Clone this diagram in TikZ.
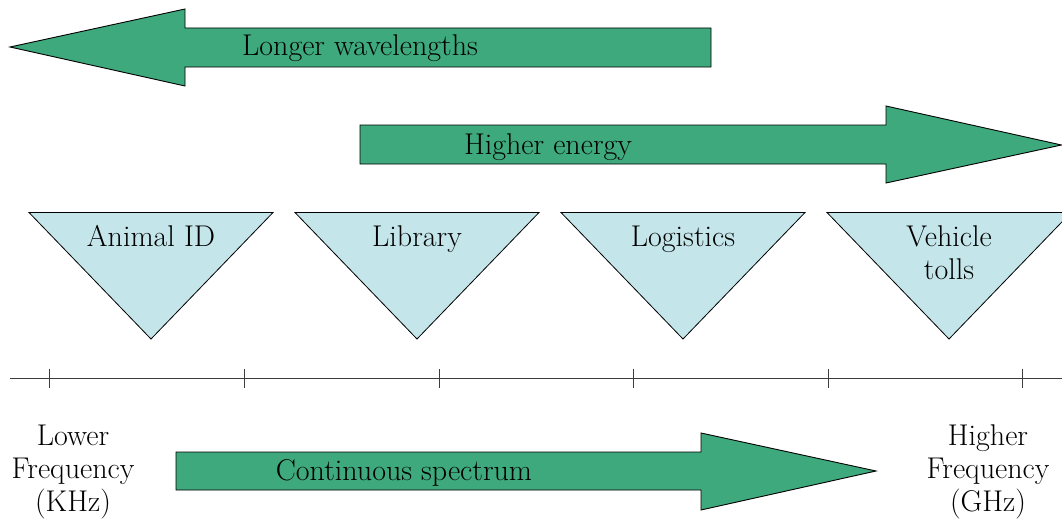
\documentclass[tikz,border=0pt]{standalone}
\usepackage{fontspec}
\definecolor{arrowgreen}{RGB}{62,169,124}
\definecolor{trifill}{RGB}{196,230,234}
\definecolor{axisgray}{RGB}{60,60,60}
\begin{document}
\begin{tikzpicture}[x=1pt,y=-1pt,
  bigarrow/.style={fill=arrowgreen,draw=black,line width=0.9pt,line join=miter},
  tri/.style={fill=trifill,draw=black,line width=0.8pt},
  lbl/.style={font=\rmfamily\fontsize{30}{33}\selectfont,inner sep=0pt,align=center},
  axis/.style={draw=axisgray,line width=1pt},
  tick/.style={draw=axisgray,line width=1pt}]
\useasboundingbox (0,0) rectangle (1062,519);
\clip (0,0) rectangle (1062,519);
% Longer wavelengths arrow (points left)
\draw[bigarrow] (10,47) -- (185,9) -- (185,28) -- (711,28) -- (711,67) -- (185,67) -- (185,86) -- cycle;
\node[lbl,anchor=base] (longer) at (360,56) {Longer wavelengths};
% Higher energy arrow (points right)
\draw[bigarrow] (360,125) -- (886,125) -- (886,106) -- (1061.5,145) -- (886,183) -- (886,164) -- (360,164) -- cycle;
\node[lbl,anchor=base] (energy) at (548,154) {Higher energy};
% Triangles
\foreach \cx in {151,417,683,949}{
  \draw[tri] (\cx-122,212.5) -- (\cx+122,212.5) -- (\cx,339) -- cycle;
}
\node[lbl,anchor=base] (animal) at (151,246) {Animal ID};
\node[lbl,anchor=base] (library) at (417,246) {Library};
\node[lbl,anchor=base] (logistics) at (683,246) {Logistics};
\node[lbl] (vehicle) at (949,253) {Vehicle\\tolls};
% Axis
\coordinate (axL) at (10,378.5);
\coordinate (axR) at (1062,378.5);
\draw[axis] (axL) -- (axR);
\foreach \tx in {49,244,439,633,828,1022}{
  \draw[tick] (\tx,369) -- (\tx,388);
}
% Frequency labels
\node[lbl] (lower) at (73,472) {Lower\\Frequency\\(KHz)};
\node[lbl] (higher) at (988,472) {Higher\\Frequency\\(GHz)};
% Continuous spectrum arrow
\draw[bigarrow] (176,452) -- (701,452) -- (701,433) -- (876,471) -- (701,510) -- (701,490) -- (176,490) -- cycle;
\node[lbl,anchor=base] (spectrum) at (404,480) {Continuous spectrum};
\end{tikzpicture}
\end{document}
